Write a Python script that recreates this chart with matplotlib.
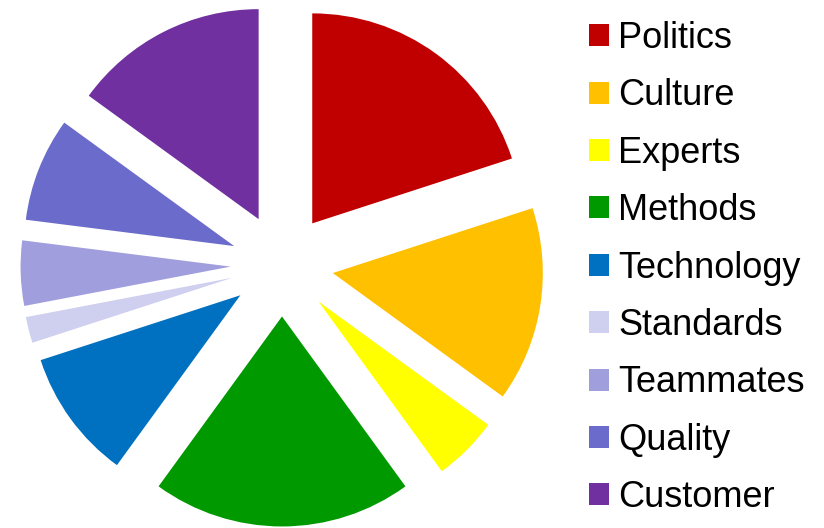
import matplotlib.pyplot as plt
from matplotlib.patches import Patch

# Shares of each slice (percent), clockwise from 12 o'clock
categories = ['Politics', 'Culture', 'Experts', 'Methods', 'Technology',
              'Standards', 'Teammates', 'Quality', 'Customer']
values = [20, 15, 5, 20, 10, 2, 5, 8, 15]
colors = ['#C00000', '#FFC000', '#FFFF00', '#009900', '#0070C0',
          '#CFCFEF', '#A09EDD', '#6B6BCC', '#7030A0']

plt.rcParams['font.family'] = ['Liberation Sans', 'DejaVu Sans']

fig = plt.figure(figsize=(8.24, 5.28), dpi=100)
ax = fig.add_axes([0, 0, 1, 1])

wedges, _ = ax.pie(values, colors=colors, explode=[0.245] * len(values),
                   startangle=90, counterclock=False,
                   wedgeprops=dict(linewidth=0))

# pie centre at (282, 265) px, radius 210 px
cx, cy, r = 282, 265, 210
ax.set_aspect('auto')
ax.set_xlim(-cx / r, (824 - cx) / r)
ax.set_ylim(-(528 - cy) / r, cy / r)
ax.axis('off')

handles = [Patch(facecolor=c, edgecolor='none') for c in colors]
ax.legend(handles, categories, loc='upper left', bbox_to_anchor=(589 / 824, 1 - 21 / 528),
          bbox_transform=fig.transFigure, frameon=False, fontsize=26,
          handlelength=0.56, handleheight=0.56, handletextpad=0.25,
          labelspacing=0.62, borderpad=0, borderaxespad=0)

fig.savefig('out.png', dpi=100)
